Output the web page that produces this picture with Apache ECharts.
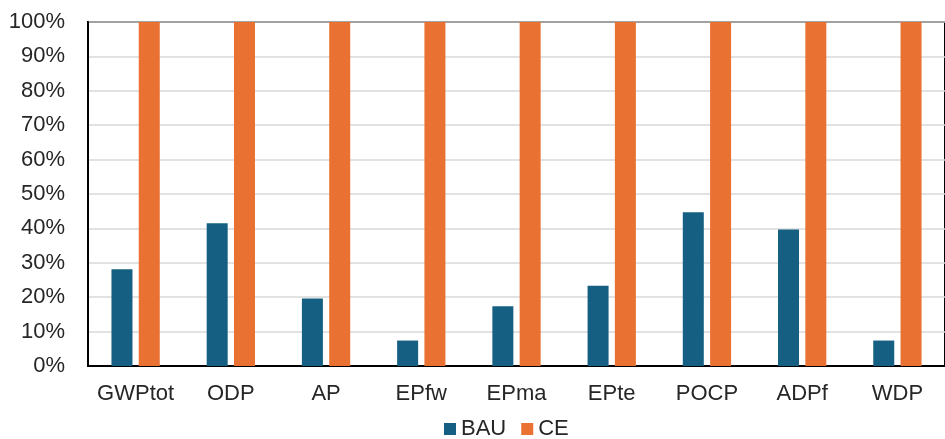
<!DOCTYPE html>
<html>
<head>
<meta charset="utf-8">
<script src="https://cdn.jsdelivr.net/npm/echarts@6/dist/echarts.min.js"></script>
<style>html,body{margin:0;padding:0;background:#fff}#c{width:945px;height:439px}</style>
</head>
<body>
<div id="c"></div>
<script>
const categories = ['GWPtot','ODP','AP','EPfw','EPma','EPte','POCP','ADPf','WDP'];
const bauValues = [28.1, 41.5, 19.6, 7.4, 17.4, 23.3, 44.7, 39.7, 7.4];
const ceValues = [100, 100, 100, 100, 100, 100, 100, 100, 100];
const seriesNames = ['BAU', 'CE'];

const chart = echarts.init(document.getElementById('c'));
const font = 'Liberation Sans, Arial, sans-serif';
chart.setOption({
  animation: false,
  textStyle: { fontFamily: font },
  grid: { left: 88, top: 22, width: 863, height: 344, show: true, borderColor: '#000', borderWidth: 2, containLabel: false },
  legend: {
    data: seriesNames,
    left: 439, top: 413,
    icon: 'rect', itemWidth: 12, itemHeight: 12, itemGap: 15,
    textStyle: { fontSize: 22, color: '#262626', fontFamily: font }
  },
  xAxis: {
    type: 'category',
    data: categories,
    axisLine: { show: true, lineStyle: { color: '#000', width: 2 } },
    axisTick: { show: false },
    axisLabel: { interval: 0, fontSize: 22, color: '#262626', margin: 17, fontFamily: font }
  },
  yAxis: {
    type: 'value',
    min: 0, max: 100, interval: 10,
    axisLine: { show: true, lineStyle: { color: '#000', width: 2 } },
    axisTick: { show: false },
    axisLabel: { formatter: '{value}%', fontSize: 22, color: '#262626', margin: 23, fontFamily: font },
    splitLine: { lineStyle: { color: '#d9d9d9', width: 1.5 } }
  },
  series: [
    { name: seriesNames[0], type: 'bar', data: bauValues, barWidth: 21, barGap: '30%', itemStyle: { color: '#156082' } },
    { name: seriesNames[1], type: 'bar', data: ceValues, barWidth: 21, barGap: '30%', itemStyle: { color: '#E97132' } }
  ]
});
</script>
</body>
</html>
